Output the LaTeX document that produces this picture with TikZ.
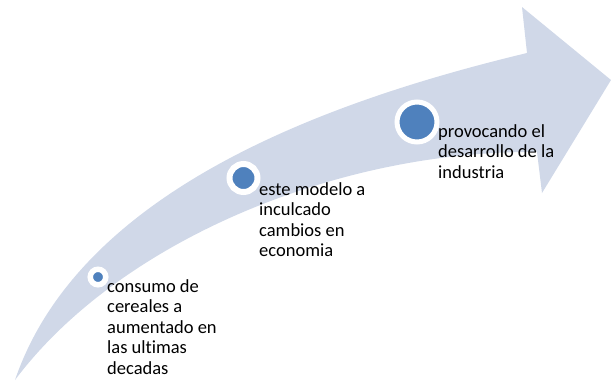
\documentclass[tikz,border=0pt]{standalone}
\usepackage{fontspec}
\setmainfont{Carlito}[Ligatures={NoCommon,NoRare}]
\usepackage{tikz}
\usetikzlibrary{backgrounds}
\definecolor{pfeilblau}{HTML}{D0D8E8}
\definecolor{punktblau}{HTML}{4F81BD}

\begin{document}
\begin{tikzpicture}[x=1pt,y=-1pt,
  punkt/.style={circle,fill=punktblau,draw=white,inner sep=0pt},
  etikett/.style={anchor=north west,inner sep=0pt,align=left,
    font=\fontsize{18.5}{20.5}\selectfont}]
\useasboundingbox (0,0) rectangle (611,381);
% Pfeil
\fill[pfeilblau] (15,380) .. controls (80,190) and (327,101) .. (527,53)
  -- (522,7) -- (611,80) -- (542,193) -- (537,152)
  .. controls (340,150) and (120,240) .. (15,380) -- cycle;
% Punkte
\node[punkt,minimum size=15.5pt,line width=5.5pt] (p1) at (98,277) {};
\node[punkt,minimum size=28pt,line width=6pt] (p2) at (243.5,178) {};
\node[punkt,minimum size=40pt,line width=5pt] (p3) at (417,122) {};
% Texte
\node[etikett] (t1) at (107,279) {consumo de\\cereales a\\aumentado en\\las ultimas\\decadas};
\node[etikett] (t2) at (259,182) {este modelo a\\inculcado\\cambios en\\economia};
\node[etikett] (t3) at (438,124) {provocando el\\desarrollo de la\\industria};
\end{tikzpicture}
\end{document}
